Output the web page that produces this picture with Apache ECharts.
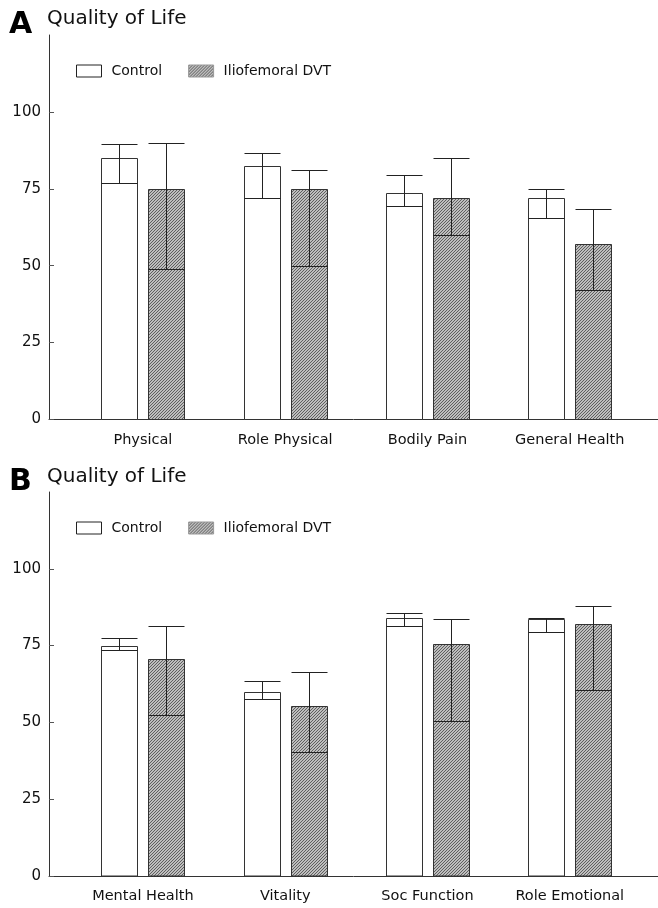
<!DOCTYPE html>
<html>
<head>
<meta charset="utf-8">
<script src="https://cdn.jsdelivr.net/npm/echarts@6/dist/echarts.min.js"></script>
<style>
  html, body { margin: 0; padding: 0; background: #fff; }
  #chart { width: 658px; height: 908px; }
</style>
</head>
<body>
<div id="chart"></div>
<script>
// Quality of life scores (SF-36 domains): bar = median, whiskers = interquartile range
const categoriesA = ['Physical', 'Role Physical', 'Bodily Pain', 'General Health'];
const categoriesB = ['Mental Health', 'Vitality', 'Soc Function', 'Role Emotional'];
const yTicks = [0, 25, 50, 75, 100];

const controlA      = [85, 82.5, 73.5, 72];
const controlAUpper = [89.5, 86.5, 79.5, 75];
const controlALower = [77, 72, 69.5, 65.5];
const dvtA          = [75, 75, 72, 57];
const dvtAUpper     = [90, 81, 85, 68.5];
const dvtALower     = [49, 50, 60, 42];

const controlB      = [75, 60, 84, 83.5];
const controlBUpper = [77.5, 63.5, 85.5, 84];
const controlBLower = [73.5, 57.5, 81.5, 79.5];
const dvtB          = [70.5, 55.5, 75.5, 82];
const dvtBUpper     = [81.5, 66.5, 83.5, 88];
const dvtBLower     = [52.5, 40.5, 50.5, 60.5];

const FONT = 'DejaVu Sans';
const INK = '#222';

// Fine diagonal hatch fill for the DVT group
function makeHatch() {
  const c = document.createElement('canvas');
  c.width = 3; c.height = 3;
  const ctx = c.getContext('2d');
  const img = ctx.createImageData(3, 3);
  for (let y = 0; y < 3; y++) {
    for (let x = 0; x < 3; x++) {
      const g = ((x + y) % 3 === 0) ? 95 : 190;
      const p = (y * 3 + x) * 4;
      img.data[p] = g; img.data[p + 1] = g; img.data[p + 2] = g; img.data[p + 3] = 255;
    }
  }
  ctx.putImageData(img, 0, 0);
  return { image: c, repeat: 'repeat' };
}
const hatch = makeHatch();

function rows(vals, lo, hi) {
  return vals.map((v, i) => [i, v, lo[i], hi[i]]);
}

// Bar with inner lower quartile line and upper whisker cap
function barWithRange(side) {
  return function (params, api) {
    const i = api.value(0), v = api.value(1), lo = api.value(2), hi = api.value(3);
    const unit = api.size([1, 0])[0];
    const barW = unit * 0.253;
    const cx = api.coord([i, 0])[0] + side * unit * 0.165;
    const y0 = api.coord([i, 0])[1];
    const yv = api.coord([i, v])[1];
    const yl = Math.round(api.coord([i, lo])[1]) + 0.5;
    const yh = Math.round(api.coord([i, hi])[1]) + 0.5;
    const x1 = Math.round(cx - barW / 2) + 0.5;
    const x2 = Math.round(cx + barW / 2) + 0.5;
    const xm = Math.round(cx) + 0.5;
    const ytop = Math.round(yv) + 0.5;
    const st = api.style();
    const lineStyle = { stroke: INK, lineWidth: 1 };
    return {
      type: 'group',
      children: [
        { type: 'rect', shape: { x: x1, y: ytop, width: x2 - x1, height: y0 - ytop },
          style: { fill: st.fill, stroke: '#333', lineWidth: 1 } },
        { type: 'line', shape: { x1: x1, y1: yl, x2: x2, y2: yl }, style: lineStyle },
        { type: 'line', shape: { x1: xm, y1: yl, x2: xm, y2: yh }, style: lineStyle },
        { type: 'line', shape: { x1: x1, y1: yh, x2: x2, y2: yh }, style: lineStyle }
      ]
    };
  };
}

function xAxisFor(cats, gridIndex) {
  return {
    type: 'value', gridIndex: gridIndex, min: -0.66, max: 3.62,
    splitLine: { show: false },
    axisTick: { show: false },
    axisLine: { lineStyle: { color: '#333', width: 1 } },
    axisLabel: {
      customValues: [0, 1, 2, 3],
      formatter: v => cats[Math.round(v)],
      fontFamily: FONT, fontSize: 14.5, color: '#111', margin: 13
    }
  };
}
function yAxisFor(gridIndex) {
  return {
    type: 'value', gridIndex: gridIndex, min: 0, max: 125, interval: 25,
    splitLine: { show: false },
    axisLine: { show: true, onZero: false, lineStyle: { color: '#333', width: 1 } },
    axisTick: { show: true, inside: true, length: 5, customValues: yTicks, lineStyle: { color: '#555' } },
    axisLabel: { customValues: yTicks, fontFamily: FONT, fontSize: 15, color: '#111', margin: 8 }
  };
}
function legendAt(top) {
  return {
    left: 76, top: top, orient: 'horizontal', icon: 'rect',
    itemWidth: 25, itemHeight: 12, itemGap: 26, padding: 0,
    textStyle: { fontFamily: FONT, fontSize: 14, color: '#111', padding: [0, 0, 0, 5] },
    data: [
      { name: 'Control', itemStyle: { color: '#fff', borderColor: INK, borderWidth: 1 } },
      { name: 'Iliofemoral DVT', itemStyle: { color: hatch, borderColor: '#999', borderWidth: 1 } }
    ]
  };
}
function seriesFor(name, data, side, fill, gridIndex) {
  return {
    type: 'custom', name: name, xAxisIndex: gridIndex, yAxisIndex: gridIndex,
    data: data, renderItem: barWithRange(side),
    itemStyle: { color: fill, borderColor: INK, borderWidth: 1 },
    encode: { x: 0, y: [1, 2, 3] },
    silent: true
  };
}

const chart = echarts.init(document.getElementById('chart'), null, { renderer: 'canvas' });
chart.setOption({
  animation: false,
  backgroundColor: '#fff',
  title: [
    { text: 'A', left: 9, top: 10, padding: 0, textStyle: { fontFamily: FONT, fontSize: 30, fontWeight: 'bold', color: '#000' } },
    { text: 'Quality of Life', left: 47, top: 9, padding: 0, textStyle: { fontFamily: FONT, fontSize: 20, fontWeight: 'normal', color: '#111' } },
    { text: 'B', left: 9, top: 467, padding: 0, textStyle: { fontFamily: FONT, fontSize: 30, fontWeight: 'bold', color: '#000' } },
    { text: 'Quality of Life', left: 47, top: 467, padding: 0, textStyle: { fontFamily: FONT, fontSize: 20, fontWeight: 'normal', color: '#111' } }
  ],
  legend: [legendAt(64), legendAt(521)],
  grid: [
    { left: 49, right: 0, top: 35, height: 384.5 },
    { left: 49, right: 0, top: 492, height: 384 }
  ],
  xAxis: [xAxisFor(categoriesA, 0), xAxisFor(categoriesB, 1)],
  yAxis: [yAxisFor(0), yAxisFor(1)],
  series: [
    seriesFor('Control', rows(controlA, controlALower, controlAUpper), -1, '#fff', 0),
    seriesFor('Iliofemoral DVT', rows(dvtA, dvtALower, dvtAUpper), 1, hatch, 0),
    seriesFor('Control', rows(controlB, controlBLower, controlBUpper), -1, '#fff', 1),
    seriesFor('Iliofemoral DVT', rows(dvtB, dvtBLower, dvtBUpper), 1, hatch, 1)
  ]
});
</script>
</body>
</html>
